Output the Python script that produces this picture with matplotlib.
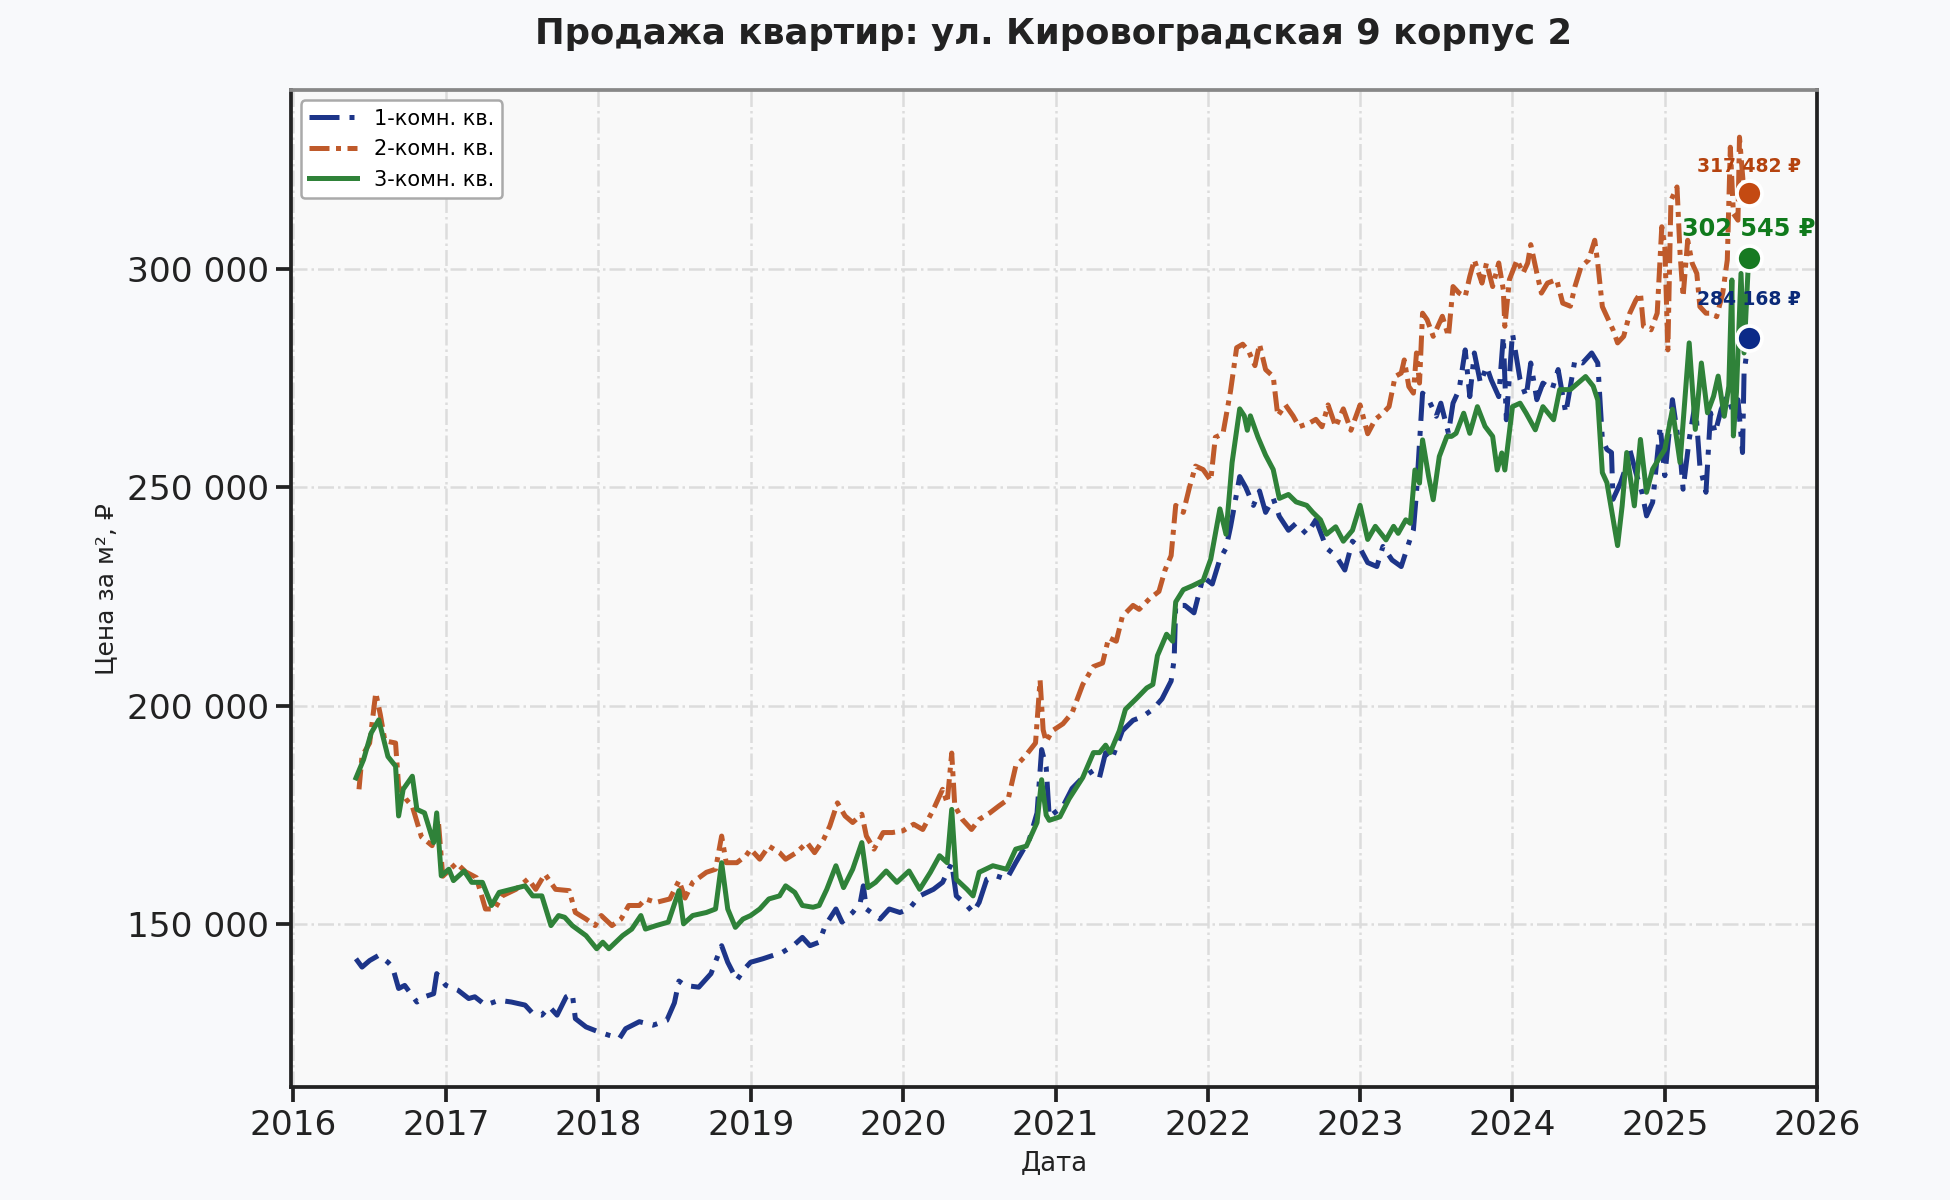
import numpy as np
import pandas as pd
import matplotlib
matplotlib.use("Agg")
import matplotlib.pyplot as plt
import matplotlib.dates as mdates
from matplotlib.ticker import FuncFormatter

# ---- данные (тыс. руб. за м²), время в долях года ----
t_1 = [2016.41, 2016.45, 2016.5, 2016.56, 2016.62, 2016.65, 2016.69, 2016.73, 2016.81, 2016.86,
       2016.92, 2016.94, 2017.0, 2017.08, 2017.15, 2017.19, 2017.26, 2017.35, 2017.43, 2017.52,
       2017.57, 2017.63, 2017.68, 2017.73, 2017.79, 2017.83, 2017.85, 2017.92, 2018.0, 2018.07,
       2018.14, 2018.18, 2018.27, 2018.36, 2018.45, 2018.5, 2018.53, 2018.57, 2018.66, 2018.74,
       2018.81, 2018.85, 2018.91, 2018.96, 2019.0, 2019.08, 2019.15, 2019.21, 2019.28, 2019.34,
       2019.39, 2019.45, 2019.49, 2019.56, 2019.6, 2019.67, 2019.72, 2019.74, 2019.76, 2019.85,
       2019.91, 2019.98, 2020.04, 2020.11, 2020.2, 2020.26, 2020.32, 2020.35, 2020.42, 2020.46,
       2020.5, 2020.55, 2020.61, 2020.68, 2020.74, 2020.83, 2020.88, 2020.91, 2020.94, 2020.96,
       2021.05, 2021.11, 2021.18, 2021.25, 2021.29, 2021.33, 2021.37, 2021.44, 2021.51, 2021.57,
       2021.64, 2021.7, 2021.76, 2021.78, 2021.79, 2021.85, 2021.91, 2021.97, 2022.03, 2022.08,
       2022.12, 2022.15, 2022.21, 2022.25, 2022.3, 2022.34, 2022.38, 2022.43, 2022.47, 2022.53,
       2022.58, 2022.65, 2022.71, 2022.78, 2022.84, 2022.9, 2022.95, 2023.0, 2023.05, 2023.11,
       2023.15, 2023.21, 2023.27, 2023.32, 2023.35, 2023.37, 2023.41, 2023.45, 2023.5, 2023.53,
       2023.58, 2023.61, 2023.65, 2023.69, 2023.72, 2023.75, 2023.79, 2023.83, 2023.86, 2023.91,
       2023.94, 2023.96, 2024.0, 2024.05, 2024.09, 2024.12, 2024.16, 2024.2, 2024.26, 2024.3,
       2024.35, 2024.41, 2024.46, 2024.52, 2024.56, 2024.59, 2024.62, 2024.65, 2024.66, 2024.71,
       2024.74, 2024.77, 2024.81, 2024.85, 2024.88, 2024.92, 2024.97, 2025.0, 2025.05, 2025.1,
       2025.12, 2025.16, 2025.2, 2025.23, 2025.27, 2025.3, 2025.33, 2025.37, 2025.41, 2025.45,
       2025.48, 2025.51, 2025.52, 2025.55]
v_1 = [142.1, 140.2, 141.7, 142.9, 141.3, 140.2, 135.3, 136.0, 132.2, 133.4,
       134.1, 138.7, 136.0, 134.9, 133.0, 133.4, 131.5, 132.6, 132.2, 131.5,
       129.6, 129.2, 131.1, 129.2, 133.4, 134.1, 128.4, 126.5, 125.4, 124.6,
       123.9, 126.1, 127.7, 126.9, 128.0, 132.0, 137.0, 136.0, 135.6, 138.7,
       145.1, 141.3, 137.2, 139.8, 141.3, 142.1, 142.9, 143.6, 145.1, 147.0,
       145.1, 145.9, 149.7, 153.5, 150.5, 152.7, 155.0, 158.8, 153.5, 151.2,
       153.5, 152.7, 153.5, 156.5, 158.0, 159.6, 164.0, 156.5, 154.3, 152.7,
       155.0, 160.3, 161.1, 160.3, 164.1, 169.5, 175.5, 190.0, 186.0, 174.6,
       177.0, 181.1, 183.6, 185.2, 183.6, 189.3, 187.7, 194.3, 196.7, 197.5,
       199.2, 201.6, 205.7, 210.7, 223.0, 223.0, 221.3, 229.5, 227.9, 233.6,
       236.1, 241.0, 252.5, 250.0, 245.9, 249.2, 244.3, 247.5, 243.4, 240.2,
       241.8, 239.3, 242.6, 236.1, 234.4, 231.1, 237.7, 236.1, 232.8, 231.9,
       236.5, 233.4, 231.9, 237.3, 240.3, 248.7, 271.6, 270.1, 266.3, 269.3,
       262.4, 269.3, 272.4, 281.5, 270.8, 280.8, 273.9, 277.7, 274.7, 270.8,
       284.6, 265.5, 285.3, 274.7, 270.8, 278.5, 270.1, 273.9, 272.4, 277.0,
       267.0, 279.2, 278.5, 280.8, 278.5, 261.0, 258.7, 258.0, 247.3, 251.1,
       254.2, 258.7, 253.4, 248.9, 243.5, 246.6, 264.0, 252.7, 270.1, 258.0,
       249.6, 261.0, 269.4, 254.9, 248.9, 267.1, 262.5, 267.9, 270.9, 267.1,
       270.1, 258.0, 276.2, 284.168]

t_2 = [2016.43, 2016.45, 2016.5, 2016.54, 2016.57, 2016.6, 2016.67, 2016.69, 2016.74, 2016.78,
       2016.84, 2016.91, 2016.95, 2016.98, 2017.07, 2017.13, 2017.2, 2017.26, 2017.32, 2017.37,
       2017.46, 2017.54, 2017.59, 2017.65, 2017.72, 2017.81, 2017.85, 2017.92, 2017.98, 2018.02,
       2018.09, 2018.15, 2018.2, 2018.27, 2018.31, 2018.38, 2018.47, 2018.53, 2018.57, 2018.62,
       2018.71, 2018.77, 2018.81, 2018.84, 2018.91, 2018.97, 2019.0, 2019.06, 2019.12, 2019.19,
       2019.23, 2019.3, 2019.37, 2019.42, 2019.48, 2019.52, 2019.57, 2019.62, 2019.67, 2019.73,
       2019.76, 2019.81, 2019.87, 2019.93, 2020.0, 2020.07, 2020.13, 2020.2, 2020.26, 2020.29,
       2020.32, 2020.34, 2020.39, 2020.45, 2020.5, 2020.57, 2020.63, 2020.69, 2020.74, 2020.8,
       2020.87, 2020.9, 2020.92, 2020.94, 2020.98, 2021.05, 2021.11, 2021.18, 2021.25, 2021.31,
       2021.35, 2021.4, 2021.44, 2021.51, 2021.55, 2021.62, 2021.68, 2021.72, 2021.76, 2021.79,
       2021.84, 2021.88, 2021.92, 2021.97, 2022.02, 2022.05, 2022.1, 2022.15, 2022.19, 2022.23,
       2022.27, 2022.31, 2022.34, 2022.38, 2022.43, 2022.46, 2022.51, 2022.56, 2022.6, 2022.67,
       2022.71, 2022.75, 2022.79, 2022.84, 2022.89, 2022.94, 2023.0, 2023.05, 2023.1, 2023.15,
       2023.19, 2023.23, 2023.27, 2023.29, 2023.32, 2023.35, 2023.37, 2023.39, 2023.41, 2023.44,
       2023.48, 2023.5, 2023.54, 2023.58, 2023.61, 2023.65, 2023.69, 2023.72, 2023.75, 2023.8,
       2023.83, 2023.87, 2023.91, 2023.94, 2023.95, 2023.98, 2024.03, 2024.07, 2024.1, 2024.12,
       2024.16, 2024.19, 2024.23, 2024.29, 2024.33, 2024.38, 2024.41, 2024.45, 2024.5, 2024.54,
       2024.56, 2024.59, 2024.63, 2024.66, 2024.69, 2024.73, 2024.77, 2024.81, 2024.84, 2024.86,
       2024.91, 2024.95, 2024.98, 2025.0, 2025.02, 2025.04, 2025.08, 2025.1, 2025.12, 2025.15,
       2025.18, 2025.21, 2025.23, 2025.27, 2025.31, 2025.34, 2025.38, 2025.41, 2025.43, 2025.45,
       2025.48, 2025.49, 2025.52, 2025.55]
v_2 = [180.9, 188.5, 191.5, 203.0, 198.0, 192.0, 191.5, 181.6, 178.6, 177.0,
       170.0, 168.0, 174.0, 161.0, 164.0, 162.0, 160.7, 153.5, 153.5, 156.5,
       158.0, 160.4, 158.0, 161.5, 158.0, 157.7, 152.7, 151.2, 149.7, 152.0,
       149.7, 151.2, 154.3, 154.3, 155.8, 155.0, 155.8, 160.0, 156.0, 159.6,
       161.9, 162.6, 170.2, 164.1, 164.1, 165.7, 167.2, 164.9, 167.9, 166.4,
       164.9, 166.4, 168.7, 166.4, 169.5, 172.5, 177.8, 174.8, 173.3, 175.2,
       170.2, 167.2, 171.0, 171.0, 171.4, 172.9, 171.7, 176.3, 180.9, 177.8,
       189.2, 177.1, 174.0, 171.7, 174.0, 175.5, 177.1, 178.6, 186.2, 188.4,
       191.5, 205.9, 194.5, 191.8, 194.3, 195.9, 198.4, 204.9, 209.0, 209.8,
       215.6, 214.8, 220.5, 223.0, 222.1, 224.6, 226.2, 231.1, 234.4, 245.9,
       244.3, 250.0, 254.9, 254.1, 251.6, 261.5, 262.3, 272.1, 282.0, 282.8,
       281.1, 277.9, 282.8, 277.0, 275.4, 266.4, 268.9, 266.4, 263.9, 264.8,
       265.6, 263.9, 268.9, 263.9, 268.0, 263.1, 268.9, 262.3, 265.6, 267.0,
       268.5, 275.4, 276.2, 279.2, 273.1, 271.6, 280.8, 273.9, 289.9, 288.4,
       284.6, 286.1, 289.2, 284.6, 296.0, 294.5, 293.7, 298.3, 302.1, 296.8,
       301.4, 296.0, 301.4, 295.3, 286.9, 297.6, 302.1, 299.1, 301.4, 305.6,
       299.1, 294.5, 296.8, 297.6, 292.2, 291.5, 296.0, 300.5, 302.1, 306.6,
       301.3, 291.4, 288.4, 286.1, 283.1, 284.6, 289.9, 292.9, 294.5, 286.9,
       286.1, 289.9, 309.7, 305.1, 281.5, 315.7, 318.8, 303.6, 293.7, 306.6,
       301.3, 299.0, 291.4, 289.9, 289.9, 289.1, 294.5, 302.1, 327.9, 312.7,
       311.2, 330.2, 317.3, 317.482]

t_3 = [2016.41, 2016.46, 2016.51, 2016.56, 2016.62, 2016.67, 2016.69, 2016.72, 2016.78, 2016.81,
       2016.86, 2016.92, 2016.94, 2016.97, 2017.02, 2017.05, 2017.12, 2017.17, 2017.24, 2017.3,
       2017.35, 2017.43, 2017.52, 2017.57, 2017.63, 2017.69, 2017.74, 2017.78, 2017.83, 2017.92,
       2017.99, 2018.03, 2018.07, 2018.16, 2018.22, 2018.28, 2018.31, 2018.38, 2018.46, 2018.53,
       2018.56, 2018.62, 2018.71, 2018.77, 2018.81, 2018.85, 2018.9, 2018.95, 2019.0, 2019.06,
       2019.12, 2019.19, 2019.23, 2019.29, 2019.34, 2019.41, 2019.45, 2019.5, 2019.56, 2019.61,
       2019.67, 2019.73, 2019.77, 2019.82, 2019.89, 2019.96, 2020.04, 2020.11, 2020.18, 2020.24,
       2020.29, 2020.32, 2020.35, 2020.42, 2020.46, 2020.5, 2020.59, 2020.68, 2020.74, 2020.81,
       2020.88, 2020.91, 2020.94, 2020.96, 2021.03, 2021.09, 2021.18, 2021.25, 2021.29, 2021.33,
       2021.36, 2021.42, 2021.46, 2021.53, 2021.6, 2021.64, 2021.67, 2021.73, 2021.77, 2021.79,
       2021.84, 2021.9, 2021.97, 2022.02, 2022.08, 2022.12, 2022.16, 2022.21, 2022.24, 2022.26,
       2022.28, 2022.33, 2022.38, 2022.43, 2022.47, 2022.53, 2022.58, 2022.65, 2022.69, 2022.74,
       2022.78, 2022.84, 2022.89, 2022.95, 2023.0, 2023.05, 2023.1, 2023.17, 2023.22, 2023.25,
       2023.3, 2023.33, 2023.36, 2023.39, 2023.41, 2023.45, 2023.48, 2023.52, 2023.57, 2023.6,
       2023.63, 2023.68, 2023.72, 2023.77, 2023.82, 2023.87, 2023.9, 2023.93, 2023.95, 2024.0,
       2024.05, 2024.09, 2024.15, 2024.2, 2024.27, 2024.31, 2024.38, 2024.43, 2024.48, 2024.53,
       2024.56, 2024.59, 2024.62, 2024.69, 2024.72, 2024.75, 2024.8, 2024.84, 2024.88, 2024.92,
       2024.96, 2025.0, 2025.05, 2025.1, 2025.16, 2025.2, 2025.24, 2025.28, 2025.32, 2025.35,
       2025.39, 2025.42, 2025.44, 2025.45, 2025.47, 2025.5, 2025.52, 2025.55]
v_3 = [183.5, 187.7, 193.8, 196.8, 188.4, 186.2, 174.8, 180.9, 183.9, 176.3,
       175.5, 168.7, 175.5, 161.1, 162.6, 160.0, 162.2, 159.6, 159.6, 154.3,
       157.3, 158.0, 158.8, 156.5, 156.5, 149.7, 152.0, 151.6, 149.7, 147.4,
       144.4, 145.9, 144.4, 147.4, 148.9, 152.0, 148.9, 149.7, 150.5, 157.7,
       150.1, 152.0, 152.7, 153.5, 164.1, 153.5, 149.3, 151.2, 152.0, 153.5,
       155.8, 156.5, 158.8, 157.3, 154.3, 153.9, 154.3, 158.0, 163.4, 158.4,
       162.6, 168.7, 158.4, 159.6, 162.2, 159.6, 162.2, 158.0, 161.9, 165.7,
       164.1, 176.3, 160.3, 158.0, 156.5, 161.9, 163.4, 162.6, 167.2, 167.9,
       173.3, 183.1, 175.0, 173.8, 174.6, 178.7, 183.6, 189.3, 189.3, 191.0,
       189.3, 194.3, 199.2, 201.6, 204.1, 204.9, 211.5, 216.4, 214.8, 223.8,
       226.6, 227.5, 228.7, 233.6, 245.1, 239.3, 255.7, 268.0, 266.4, 263.1,
       266.4, 261.5, 257.4, 254.1, 247.5, 248.4, 246.7, 245.9, 244.3, 242.6,
       239.3, 241.0, 237.7, 240.2, 245.9, 238.1, 241.1, 238.0, 241.1, 239.5,
       242.6, 241.8, 254.0, 251.0, 260.9, 252.5, 247.2, 257.1, 261.7, 261.7,
       262.4, 267.0, 262.4, 268.5, 264.0, 261.7, 254.0, 257.9, 254.0, 268.5,
       269.3, 267.0, 263.2, 268.5, 265.5, 272.4, 272.4, 273.9, 275.4, 273.2,
       270.0, 253.4, 251.1, 236.7, 245.8, 258.0, 245.8, 261.0, 248.9, 254.2,
       256.5, 258.7, 267.9, 255.7, 283.1, 263.3, 278.5, 267.1, 270.9, 275.5,
       266.3, 273.2, 297.5, 261.8, 271.7, 299.0, 280.8, 302.545]

labels = ["1-комн. кв.", "2-комн. кв.", "3-комн. кв."]
last_labels = ["284 168 ₽", "317 482 ₽", "302 545 ₽"]
title = "Продажа квартир: ул. Кировоградская 9 корпус 2"


def to_dates(t):
    t = np.asarray(t)
    base = pd.Timestamp("2016-01-01")
    return base + pd.to_timedelta((t - 2016.0) * 365.25, unit="D")


series = [(t_1, v_1), (t_2, v_2), (t_3, v_3)]
line_colors = ["#1d3589", "#bf5a2b", "#2f8239"]
dot_colors = ["#0b2a88", "#c44a12", "#177a22"]
text_colors = ["#0b2a78", "#b5430f", "#107a1c"]
styles = [(0, (6, 2, 1, 2)), (0, (4, 1.3, 1, 1.3)), "-"]
text_sizes = [9, 9, 11.5]
text_offsets = [14, 8, 8]

plt.rcParams["font.family"] = ["DejaVu Sans"]
fig = plt.figure(figsize=(13, 8), dpi=150, facecolor="#f8f9fb")
ax = fig.add_axes([0.149, 0.094, 0.783, 0.831])
ax.set_facecolor("#f9f9f9")

for (t, v), lab, c, ls in zip(series, labels, line_colors, styles):
    ax.plot(to_dates(t), np.asarray(v) * 1000, color=c, linestyle=ls, lw=2.4, label=lab)

# последние значения
for (t, v), txt, dc, tc, fs, off in zip(series, last_labels, dot_colors, text_colors,
                                        text_sizes, text_offsets):
    d = to_dates(t)[-1]
    y = v[-1] * 1000
    ax.plot([d], [y], "o", ms=12, color=dc, mec="white", mew=1.8, zorder=5)
    ax.annotate(txt, (d, y), xytext=(0, off), textcoords="offset points",
                ha="center", va="bottom", fontsize=fs, fontweight="bold", color=tc, zorder=6)

ax.set_xlim(pd.Timestamp("2015-12-25"), pd.Timestamp("2026-01-01"))
ax.set_ylim(112700, 341000)
ax.xaxis.set_major_locator(mdates.YearLocator())
ax.xaxis.set_major_formatter(mdates.DateFormatter("%Y"))
ax.set_yticks([150000, 200000, 250000, 300000])
ax.yaxis.set_major_formatter(FuncFormatter(lambda x, p: f"{x:,.0f}".replace(",", " ")))

ax.grid(True, color="#dcdcdc", linestyle="-.", lw=1.2)
ax.tick_params(axis="both", labelsize=16.5, length=7, width=1.8, color="#222222", labelcolor="#222222")

for side in ["left", "bottom", "right"]:
    ax.spines[side].set_color("#222222")
    ax.spines[side].set_linewidth(1.8)
ax.spines["top"].set_color("#888888")
ax.spines["top"].set_linewidth(1.8)

ax.set_xlabel("Дата", fontsize=12.5, color="#222222")
ax.set_ylabel("Цена за м², ₽", fontsize=12, color="#222222")
ax.set_title(title, fontsize=17, fontweight="bold", color="#222222", pad=22)

leg = ax.legend(loc="upper left", fontsize=10, frameon=True, fancybox=True,
                edgecolor="#aaaaaa", facecolor="white", framealpha=1, handlelength=2.3)
leg.get_frame().set_linewidth(1.2)

fig.savefig("out.png", dpi=150, facecolor=fig.get_facecolor())
